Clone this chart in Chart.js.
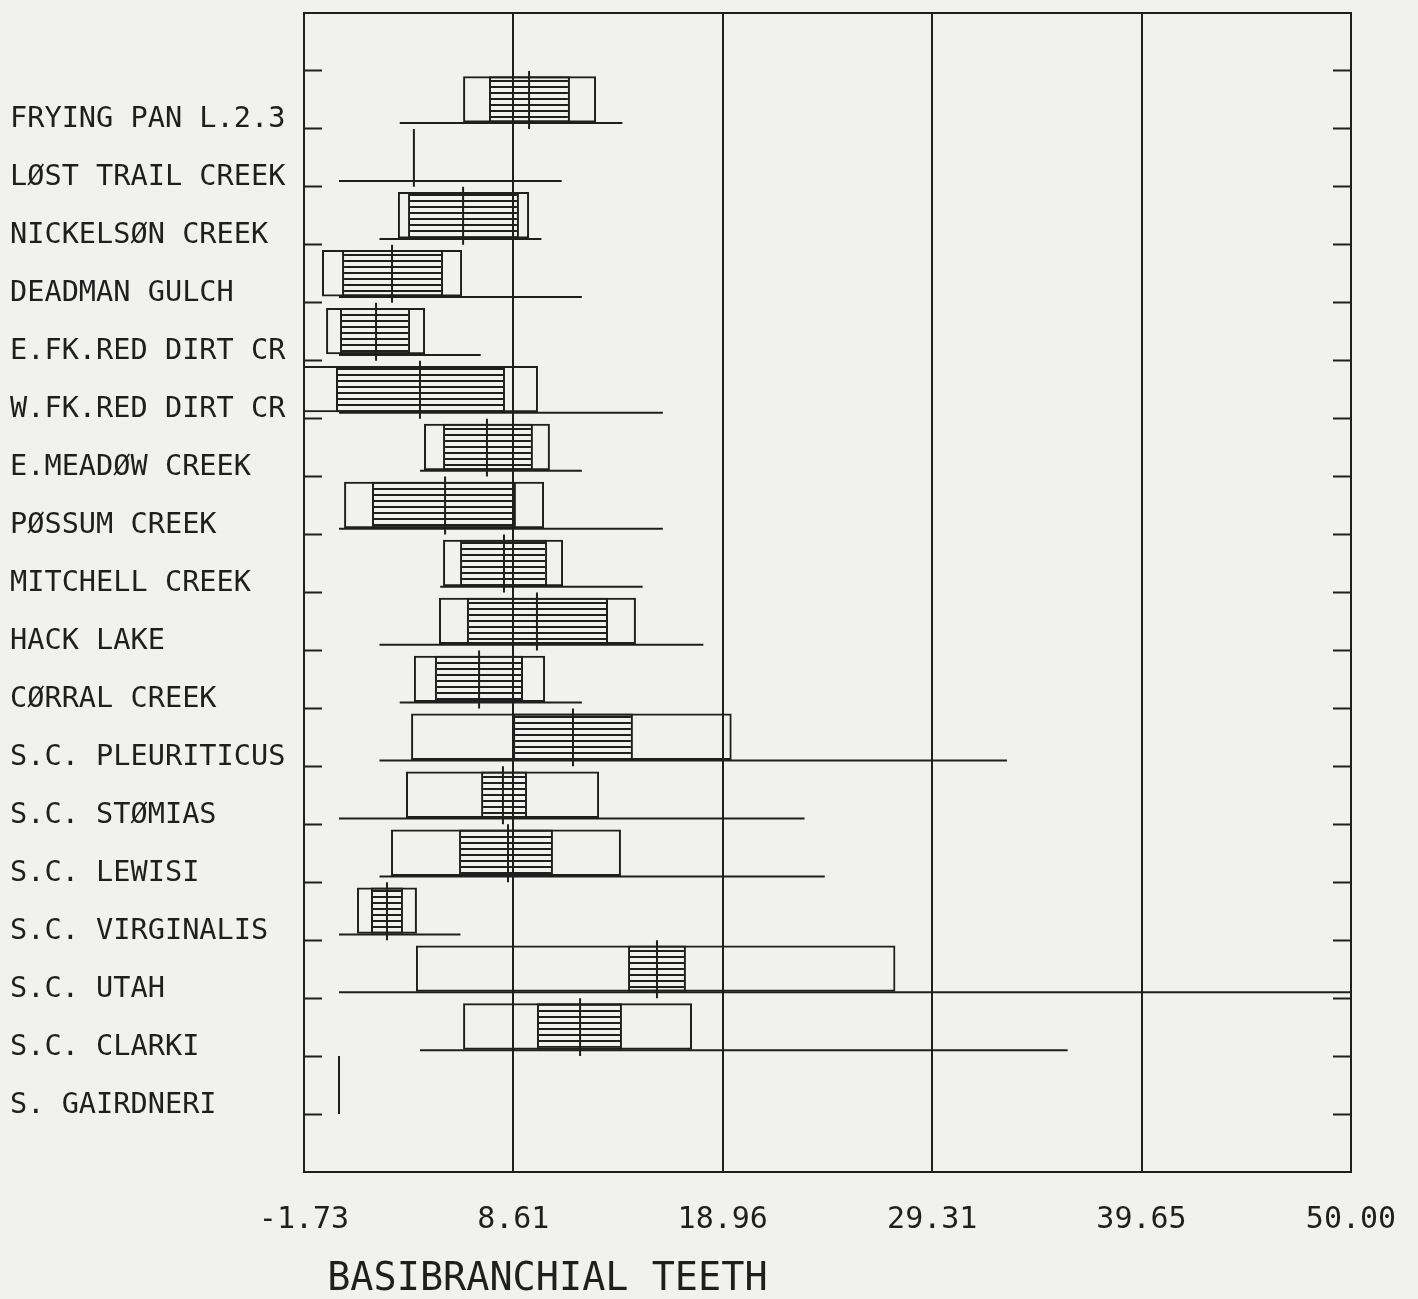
<!DOCTYPE html>
<html lang="en">
<head>
    <meta charset="UTF-8">
    <title>Basibranchial teeth</title>
    <script src="https://cdn.jsdelivr.net/npm/chart.js"></script>
    <style>
        html, body { margin: 0; padding: 0; background: #f1f1ef; }
        canvas { display: block; }
    </style>
</head>
<body>
    <canvas id="grafico" width="1418" height="1299"></canvas>

    <script>
        // populations, top to bottom
        const populations = [
            "FRYING PAN L.2.3", "LØST TRAIL CREEK", "NICKELSØN CREEK", "DEADMAN GULCH",
            "E.FK.RED DIRT CR", "W.FK.RED DIRT CR", "E.MEADØW CREEK", "PØSSUM CREEK",
            "MITCHELL CREEK", "HACK LAKE", "CØRRAL CREEK", "S.C. PLEURITICUS",
            "S.C. STØMIAS", "S.C. LEWISI", "S.C. VIRGINALIS", "S.C. UTAH",
            "S.C. CLARKI", "S. GAIRDNERI"
        ];
        const means    = [9.39, 3.70, 6.13, 2.62, 1.83, 4.00, 7.31, 5.24, 8.15, 9.78, 6.92, 11.56, 8.10, 8.35, 2.37, 15.71, 11.91, 0.00];
        const sdLow    = [6.13, null, 2.91, -0.84, -0.64, -1.83, 4.20, 0.25, 5.14, 4.94, 3.70, 3.56, 3.31, 2.57, 0.89, 3.80, 6.13, null];
        const sdHigh   = [12.70, null, 9.39, 6.08, 4.25, 9.83, 10.42, 10.13, 11.07, 14.67, 10.18, 19.40, 12.85, 13.93, 3.85, 27.49, 17.44, null];
        const seLow    = [7.41, null, 3.41, 0.15, 0.05, -0.15, 5.14, 1.63, 5.98, 6.32, 4.74, 8.60, 7.02, 5.93, 1.58, 14.28, 9.78, null];
        const seHigh   = [11.41, null, 8.89, 5.14, 3.51, 8.20, 9.58, 8.74, 10.28, 13.29, 9.09, 14.52, 9.29, 10.57, 3.16, 17.14, 13.98, null];
        const rangeMin = [3, 0, 2, 0, 0, 0, 4, 0, 5, 2, 3, 2, 0, 2, 0, 0, 4, 0];
        const rangeMax = [14, 11, 10, 12, 7, 16, 12, 16, 15, 18, 12, 33, 23, 24, 6, 50, 36, 0];
        const xTicks   = [-1.73, 8.61, 18.96, 29.31, 39.65, 50.00];

        const ink = '#1f1f1f';
        const fonte = 'DejaVu Sans Mono';

        const canvas = document.getElementById("grafico");
        const ctx = canvas.getContext("2d");

        // horizontal hatching for the standard error box
        const tile = document.createElement('canvas');
        tile.width = 4;
        tile.height = 6;
        const tctx = tile.getContext('2d');
        tctx.fillStyle = ink;
        tctx.fillRect(0, 2, 4, 2);
        const hatch = ctx.createPattern(tile, 'repeat');

        // row i sits between tick i+1 and tick i+2 of the y scale
        const sdData = [], seData = [], meanData = [], rangeData = [];
        populations.forEach((p, i) => {
            if (sdLow[i] !== null) sdData.push({ y: i + 1.49, x: [sdLow[i], sdHigh[i]] });
            if (seLow[i] !== null) seData.push({ y: i + 1.49, x: [seLow[i], seHigh[i]] });
            meanData.push({ x: means[i], y: i + 1 }, { x: means[i], y: i + 2 }, { x: null, y: null });
            rangeData.push({ x: rangeMin[i], y: i + 1.9 }, { x: rangeMax[i], y: i + 1.9 }, { x: null, y: null });
        });

        const rowTicks = (scale) => {
            scale.ticks = [];
            for (let k = 1; k <= 19; k++) scale.ticks.push({ value: k });
        };

        // fixed box size, no extra room asked for the labels
        const fixSize = (w, h) => (s) => {
            if (w !== null) s.width = w;
            if (h !== null) s.height = h;
            s.paddingLeft = 0; s.paddingRight = 0; s.paddingTop = 0; s.paddingBottom = 0;
        };

        new Chart(ctx, {
            type: 'bar',
            data: {
                datasets: [
                    { type: 'line', label: 'mean', data: meanData, borderColor: ink, borderWidth: 2,
                      pointRadius: 0, fill: false, order: 0, xAxisID: 'x', yAxisID: 'y' },
                    { type: 'line', label: 'range', data: rangeData, borderColor: ink, borderWidth: 2,
                      pointRadius: 0, fill: false, order: 0, xAxisID: 'x', yAxisID: 'y' },
                    { type: 'bar', label: 'standard error', indexAxis: 'y', data: seData, backgroundColor: hatch,
                      borderColor: ink, borderWidth: 2, borderSkipped: false, grouped: false,
                      categoryPercentage: 1, barPercentage: 0.8, order: 1, xAxisID: 'x', yAxisID: 'y' },
                    { type: 'bar', label: 'standard deviation', indexAxis: 'y', data: sdData, backgroundColor: 'rgba(0,0,0,0)',
                      borderColor: ink, borderWidth: 2, borderSkipped: false, grouped: false,
                      categoryPercentage: 1, barPercentage: 0.8, order: 2, xAxisID: 'x', yAxisID: 'y' }
                ]
            },
            options: {
                responsive: false,
                animation: false,
                layout: { autoPadding: false, padding: { left: 10, top: 0, right: 0, bottom: 0 } },
                plugins: { legend: { display: false }, tooltip: { enabled: false } },
                scales: {
                    x: {
                        type: 'linear', position: 'bottom', min: -1.73, max: 50, offset: false,
                        afterBuildTicks: (s) => { s.ticks = xTicks.map(v => ({ value: v })); },
                        afterFit: fixSize(null, 127),
                        ticks: { callback: (v) => Number(v).toFixed(2), color: ink, padding: 30,
                                 maxRotation: 0, autoSkip: false, font: { family: fonte, size: 30 } },
                        grid: { color: ink, lineWidth: 2, drawTicks: false, offset: false },
                        border: { display: true, color: ink, width: 2 },
                        title: { display: true, text: ' BASIBRANCHIAL TEETH', align: 'start', color: ink,
                                 padding: { top: 0, bottom: 0 }, font: { family: fonte, size: 38.5, lineHeight: 1 } }
                    },
                    xt: {
                        type: 'linear', position: 'top', min: -1.73, max: 50, offset: false,
                        afterFit: fixSize(null, 13),
                        ticks: { display: false },
                        grid: { display: false },
                        border: { display: true, color: ink, width: 2 }
                    },
                    y: {
                        type: 'linear', position: 'left', min: 0, max: 20, reverse: true, offset: false,
                        afterBuildTicks: rowTicks,
                        afterFit: fixSize(294, null),
                        ticks: { callback: (v) => populations[v - 1] || '', color: ink, crossAlign: 'far',
                                 labelOffset: 49, autoSkip: false, font: { family: fonte, size: 28.6 } },
                        grid: { display: true, drawOnChartArea: false, drawTicks: true, tickLength: -18,
                                tickColor: ink, tickWidth: 2, offset: false },
                        border: { display: true, color: ink, width: 2 }
                    },
                    yr: {
                        type: 'linear', position: 'right', min: 0, max: 20, reverse: true, offset: false,
                        afterBuildTicks: rowTicks,
                        afterFit: fixSize(67, null),
                        ticks: { display: false },
                        grid: { display: true, drawOnChartArea: false, drawTicks: true, tickLength: -18,
                                tickColor: ink, tickWidth: 2, offset: false },
                        border: { display: true, color: ink, width: 2 }
                    }
                }
            }
        });
    </script>
</body>
</html>
